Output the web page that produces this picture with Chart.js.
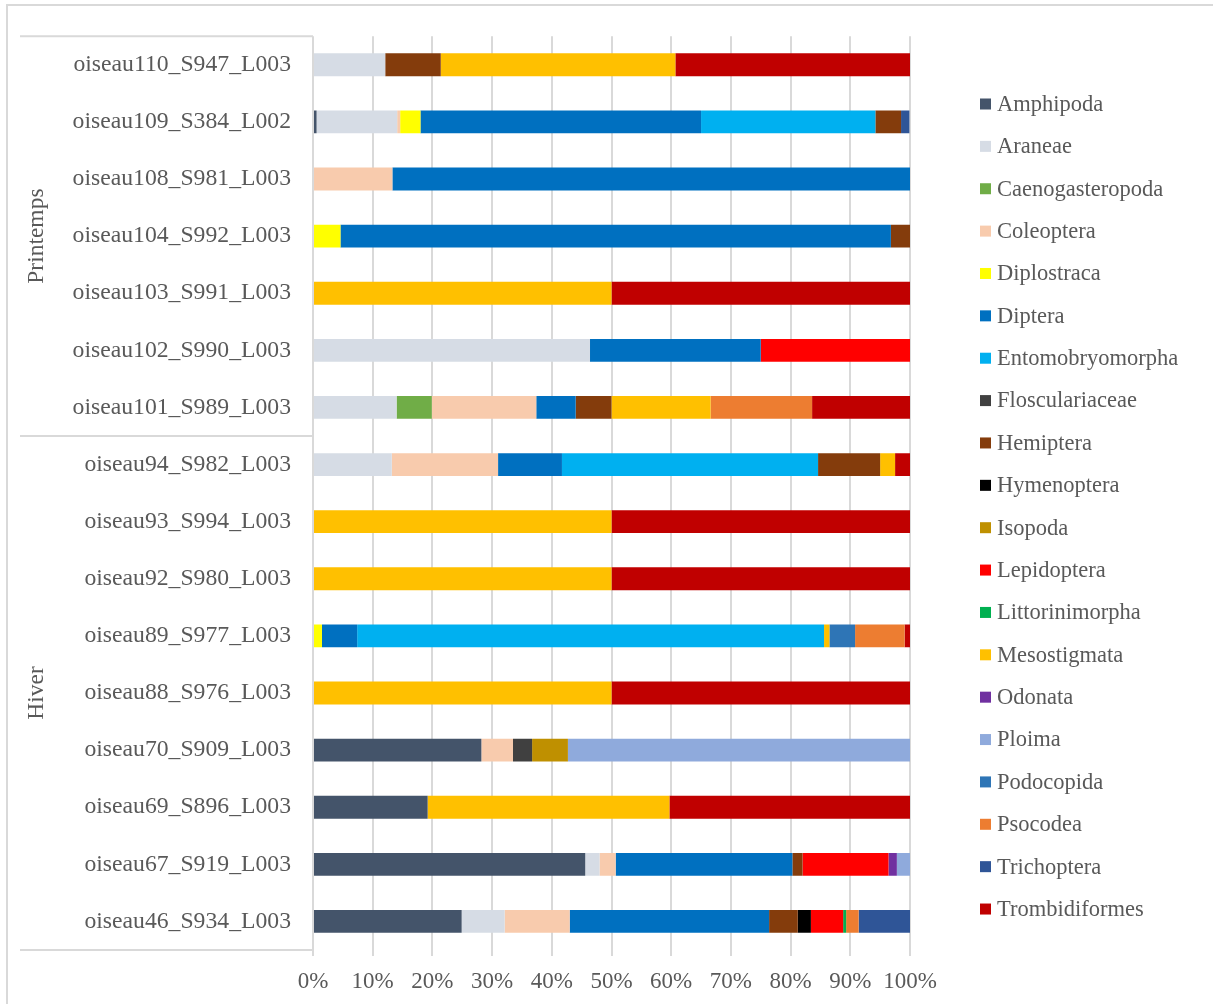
<!DOCTYPE html>
<html>
<head>
<meta charset="utf-8">
<script src="https://cdn.jsdelivr.net/npm/chart.js"></script>
<style>
  html, body { margin: 0; padding: 0; background: #ffffff; }
  #wrap { width: 1213px; height: 1004px; }
</style>
</head>
<body>
<div id="wrap"><canvas id="dietChart" width="1213" height="1004"></canvas></div>
<script>
// =========================
// DATA (percent of each sample, top row first)
// =========================
const samples = [
  "oiseau110_S947_L003", "oiseau109_S384_L002", "oiseau108_S981_L003", "oiseau104_S992_L003",
  "oiseau103_S991_L003", "oiseau102_S990_L003", "oiseau101_S989_L003",
  "oiseau94_S982_L003", "oiseau93_S994_L003", "oiseau92_S980_L003", "oiseau89_S977_L003",
  "oiseau88_S976_L003", "oiseau70_S909_L003", "oiseau69_S896_L003", "oiseau67_S919_L003",
  "oiseau46_S934_L003"
];

const seasons = ["Printemps", "Hiver"];
const seasonCounts = [7, 9];

const xTicks = [0, 10, 20, 30, 40, 50, 60, 70, 80, 90, 100];

const amphipoda        = [0, 0.6, 0, 0, 0, 0, 0, 0, 0, 0, 0, 0, 28.2, 19.2, 45.6, 24.9];
const araneae          = [12.1, 13.5, 0, 0, 0, 46.4, 14.0, 13.2, 0, 0, 0, 0, 0, 0, 2.4, 7.2];
const caenogasteropoda = [0, 0, 0, 0, 0, 0, 5.9, 0, 0, 0, 0, 0, 0, 0, 0, 0];
const coleoptera       = [0, 0.5, 13.3, 0, 0, 0, 17.5, 17.8, 0, 0, 0, 0, 5.3, 0, 2.7, 10.9];
const diplostraca      = [0, 3.4, 0, 4.6, 0, 0, 0, 0, 0, 0, 1.5, 0, 0, 0, 0, 0];
const diptera          = [0, 47.0, 86.7, 92.2, 0, 28.6, 6.6, 10.7, 0, 0, 5.9, 0, 0, 0, 29.6, 33.4];
const entomobryomorpha = [0, 29.2, 0, 0, 0, 0, 0, 42.9, 0, 0, 78.2, 0, 0, 0, 0, 0];
const flosculariaceae  = [0, 0, 0, 0, 0, 0, 0, 0, 0, 0, 0, 0, 3.2, 0, 0, 0];
const hemiptera        = [9.3, 4.3, 0, 3.2, 0, 0, 6.0, 10.4, 0, 0, 0, 0, 0, 0, 1.7, 4.8];
const hymenoptera      = [0, 0, 0, 0, 0, 0, 0, 0, 0, 0, 0, 0, 0, 0, 0, 2.2];
const isopoda          = [0, 0, 0, 0, 0, 0, 0, 0, 0, 0, 0, 0, 6.0, 0, 0, 0];
const lepidoptera      = [0, 0, 0, 0, 0, 25.0, 0, 0, 0, 0, 0, 0, 0, 0, 14.4, 5.4];
const littorinimorpha  = [0, 0, 0, 0, 0, 0, 0, 0, 0, 0, 0, 0, 0, 0, 0, 0.5];
const mesostigmata     = [39.3, 0, 0, 0, 50, 0, 16.6, 2.5, 50, 50, 0.9, 50, 0, 40.5, 0, 0];
const odonata          = [0, 0, 0, 0, 0, 0, 0, 0, 0, 0, 0, 0, 0, 0, 1.4, 0];
const ploima           = [0, 0, 0, 0, 0, 0, 0, 0, 0, 0, 0, 0, 57.3, 0, 2.2, 0];
const podocopida       = [0, 0, 0, 0, 0, 0, 0, 0, 0, 0, 4.3, 0, 0, 0, 0, 0];
const psocodea         = [0, 0, 0, 0, 0, 0, 17.0, 0, 0, 0, 8.3, 0, 0, 0, 0, 2.1];
const trichoptera      = [0, 1.4, 0, 0, 0, 0, 0, 0, 0, 0, 0, 0, 0, 0, 0, 8.6];
const trombidiformes   = [39.3, 0, 0, 0, 50, 0, 16.4, 2.5, 50, 50, 0.9, 50, 0, 40.3, 0, 0];

const taxa = [
  "Amphipoda", "Araneae", "Caenogasteropoda", "Coleoptera", "Diplostraca", "Diptera",
  "Entomobryomorpha", "Flosculariaceae", "Hemiptera", "Hymenoptera", "Isopoda",
  "Lepidoptera", "Littorinimorpha", "Mesostigmata", "Odonata", "Ploima", "Podocopida",
  "Psocodea", "Trichoptera", "Trombidiformes"
];
const taxaValues = [
  amphipoda, araneae, caenogasteropoda, coleoptera, diplostraca, diptera,
  entomobryomorpha, flosculariaceae, hemiptera, hymenoptera, isopoda,
  lepidoptera, littorinimorpha, mesostigmata, odonata, ploima, podocopida,
  psocodea, trichoptera, trombidiformes
];

// =========================
// STYLE
// =========================
const taxaColors = [
  "#44546A", "#D6DCE5", "#70AD47", "#F8CBAD", "#FFFF00", "#0070C0",
  "#00B0F0", "#404040", "#843C0C", "#000000", "#BF9000",
  "#FF0000", "#00B050", "#FFC000", "#7030A0", "#8FAADC", "#2E75B6",
  "#ED7D31", "#2F5597", "#C00000"
];
const FONT = "'Liberation Serif', 'Times New Roman', serif";
const TEXT = "#595959";
const LINE = "#D9D9D9";

// =========================
// PLUGIN: frame, season groups, legend
// =========================
const decorations = {
  id: "decorations",
  beforeDraw(chart) {
    const ctx = chart.ctx;
    ctx.save();
    ctx.strokeStyle = LINE;
    ctx.lineWidth = 2;
    ctx.strokeRect(7, 5, chart.width + 20, chart.height + 20);
    ctx.restore();
  },
  afterDraw(chart) {
    const ctx = chart.ctx;
    const y = chart.scales.y;
    const area = chart.chartArea;
    const step = y.getPixelForValue(1) - y.getPixelForValue(0);

    // separator lines of the season groups
    const bounds = [area.top];
    let idx = 0;
    seasonCounts.forEach(n => {
      idx += n;
      bounds.push(y.getPixelForValue(idx - 1) + step / 2);
    });

    ctx.save();
    ctx.strokeStyle = LINE;
    ctx.lineWidth = 2;
    bounds.forEach(b => {
      ctx.beginPath();
      ctx.moveTo(20, b);
      ctx.lineTo(area.left, b);
      ctx.stroke();
    });

    ctx.fillStyle = TEXT;
    ctx.font = "23.5px " + FONT;
    ctx.textAlign = "center";
    ctx.textBaseline = "middle";
    seasons.forEach((s, i) => {
      const mid = (bounds[i] + bounds[i + 1]) / 2;
      ctx.save();
      ctx.translate(37, mid);
      ctx.rotate(-Math.PI / 2);
      ctx.fillText(s, 0, 0);
      ctx.restore();
    });

    // legend
    ctx.font = "22.5px " + FONT;
    ctx.textAlign = "left";
    chart.data.datasets.forEach((ds, i) => {
      const cy = 104 + i * 42.37;
      ctx.fillStyle = ds.backgroundColor;
      ctx.fillRect(980, cy - 5.5, 11, 11);
      ctx.fillStyle = TEXT;
      ctx.fillText(ds.label, 997, cy + 1);
    });
    ctx.restore();
  }
};

// =========================
// RENDER CHART
// =========================
const datasets = taxa.map((name, i) => ({
  label: name,
  data: taxaValues[i],
  backgroundColor: taxaColors[i],
  borderWidth: 0,
  barPercentage: 0.4,
  categoryPercentage: 1.0
}));

new Chart(document.getElementById("dietChart"), {
  type: "bar",
  data: { labels: samples, datasets: datasets },
  plugins: [decorations],
  options: {
    indexAxis: "y",
    responsive: false,
    animation: false,
    devicePixelRatio: 1,
    layout: { padding: { top: 33, right: 303, bottom: 0, left: 0 } },
    plugins: {
      legend: { display: false },
      tooltip: { enabled: false }
    },
    scales: {
      x: {
        stacked: true,
        min: 0,
        max: 100,
        afterBuildTicks: scale => { scale.ticks = xTicks.map(v => ({ value: v })); },
        afterFit: scale => { scale.height = 54; },
        border: { display: false },
        grid: { color: LINE, lineWidth: 2, tickLength: 6 },
        ticks: {
          color: TEXT,
          padding: 12,
          font: { family: FONT, size: 23 },
          callback: v => v + "%"
        }
      },
      y: {
        stacked: true,
        afterFit: scale => { scale.width = 313; },
        border: { display: false },
        grid: { display: false, drawTicks: false },
        ticks: {
          color: TEXT,
          padding: 22,
          autoSkip: false,
          font: { family: FONT, size: 23.7 }
        }
      }
    }
  }
});
</script>
</body>
</html>
